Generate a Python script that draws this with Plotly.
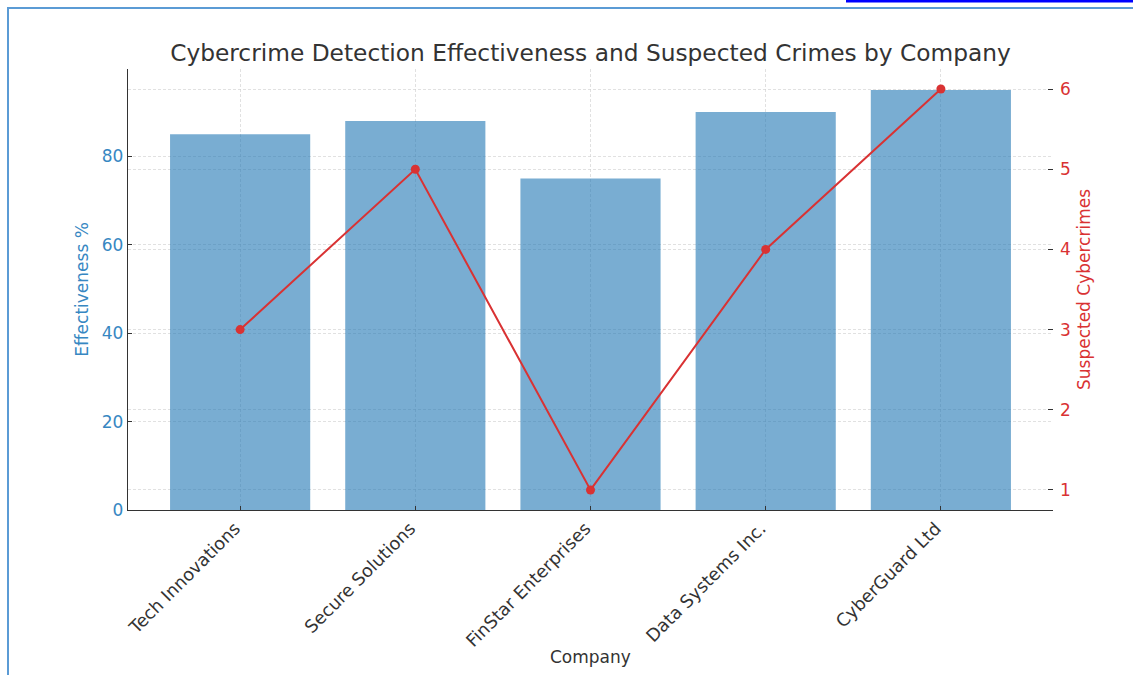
import plotly.graph_objects as go

# Data
companies = ["Tech Innovations", "Secure Solutions", "FinStar Enterprises",
             "Data Systems Inc.", "CyberGuard Ltd"]
effectiveness = [85, 88, 75, 90, 95]
suspected_crimes = [3, 5, 1, 4, 6]
left_ticks = [0, 20, 40, 60, 80]
right_ticks = [1, 2, 3, 4, 5, 6]

W, H = 1133, 675
# plot area in pixels
PL, PR, PT, PB = 128, 1053, 69, 510

def px_x(x):
    return (x - PL) / (PR - PL)

def px_y(y):
    return (PB - y) / (PB - PT)

FONT = "DejaVu Sans"
FS = 17
BLUE = "#3787c2"
RED = "#d93233"
GRID = "rgba(205,205,205,0.6)"
AXIS = "#333333"

fig = go.Figure()

fig.add_trace(go.Bar(
    x=companies, y=effectiveness, width=0.8,
    marker=dict(color="rgba(31,119,180,0.6)", line=dict(width=0)),
    yaxis="y", name="Effectiveness %",
))

fig.add_trace(go.Scatter(
    x=companies, y=suspected_crimes, yaxis="y2",
    mode="lines+markers",
    line=dict(color=RED, width=2),
    marker=dict(color=RED, size=9),
    name="Suspected Cybercrimes",
))

fig.update_layout(
    width=W, height=H,
    margin=dict(l=PL, r=W - PR, t=PT, b=H - PB, autoexpand=False),
    paper_bgcolor="white", plot_bgcolor="white",
    showlegend=False,
    title=dict(
        text="Cybercrime Detection Effectiveness and Suspected Crimes by Company",
        font=dict(family=FONT, size=23.3, color="#333333"),
        x=0.5, xref="paper", xanchor="center",
        y=1 - 53 / H, yref="container", yanchor="middle",
    ),
    xaxis=dict(
        type="category", range=[-0.64, 4.64],
        showline=True, linecolor=AXIS, linewidth=1.3,
        ticks="inside", ticklen=4, tickcolor=AXIS, tickwidth=1,
        tickangle=-45, tickfont=dict(family=FONT, size=17.7, color="#333333"),
        ticklabelshift=-5,
        showgrid=True, gridcolor=GRID, griddash="3px,2px", gridwidth=1,
        layer="above traces", automargin=False,
        zeroline=False,
    ),
    yaxis=dict(
        range=[0, 99.75], tickvals=left_ticks,
        showline=True, linecolor=AXIS, linewidth=1.3,
        ticks="inside", ticklen=4, tickcolor=AXIS, tickwidth=1,
        tickfont=dict(family=FONT, size=FS, color=BLUE),
        title=dict(text="Effectiveness %", font=dict(family=FONT, size=FS, color=BLUE),
                   standoff=8),
        showgrid=True, gridcolor=GRID, griddash="3px,2px", gridwidth=1,
        layer="above traces", automargin=False,
        zeroline=False,
    ),
    yaxis2=dict(
        range=[0.75, 6.25], tickvals=right_ticks,
        overlaying="y", side="right",
        showline=False,
        ticks="inside", ticklen=5, tickcolor=AXIS, tickwidth=1.3,
        tickfont=dict(family=FONT, size=FS, color=RED),
        ticklabelstandoff=6,
        title=dict(text="Suspected Cybercrimes", font=dict(family=FONT, size=FS, color=RED),
                   standoff=8),
        showgrid=True, gridcolor=GRID, griddash="3px,2px", gridwidth=1,
        layer="above traces", automargin=False,
        zeroline=False,
    ),
)

# x-axis caption
fig.add_annotation(
    text="Company", xref="paper", yref="paper",
    x=0.5, y=px_y(657), xanchor="center", yanchor="middle",
    showarrow=False, font=dict(family=FONT, size=FS, color="#333333"),
)

# page frame and header strip
fig.add_shape(type="rect", xref="paper", yref="paper",
              x0=px_x(8), x1=px_x(1145), y0=px_y(8), y1=px_y(690),
              line=dict(color="#5b9bd5", width=2), fillcolor="rgba(0,0,0,0)",
              layer="above")
fig.add_shape(type="line", xref="paper", yref="paper",
              x0=px_x(846), x1=px_x(1140), y0=px_y(1), y1=px_y(1),
              line=dict(color="#0000ff", width=3), layer="above")

fig.write_html("out.html")
